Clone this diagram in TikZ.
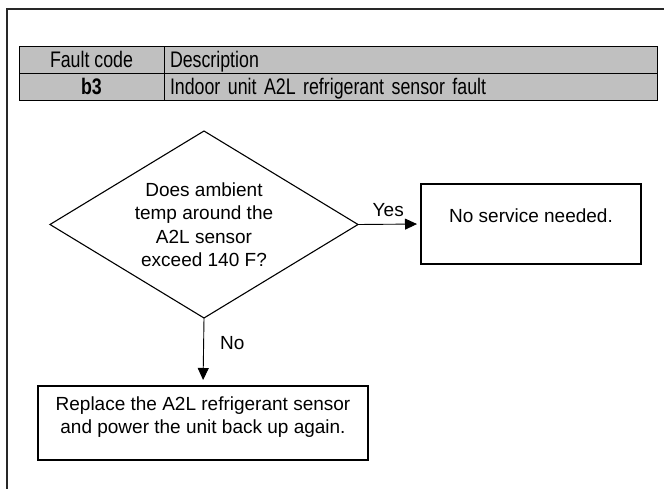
\documentclass[tikz,border=0pt]{standalone}
\usepackage{fontspec}
\setmainfont{Liberation Sans}
\newfontfamily\tablefont[FakeStretch=0.79]{Liberation Sans}
\usetikzlibrary{arrows.meta,positioning,shapes.geometric}
\definecolor{FltGray}{RGB}{192,192,192}
\definecolor{FltFrame}{RGB}{40,40,40}
\tikzset{
  flt/cell/.style={
    draw=black,
    line width=0.9pt,
    fill=FltGray,
    outer sep=0pt,
    minimum height=27pt,
    inner xsep=6pt,
    inner ysep=0pt,
    text height=15.9pt,
    text depth=0pt,
    font=\tablefont\fontsize{22.5}{24}\selectfont
  },
  flt/decision/.style={
    diamond,
    aspect=1.647,
    draw=black,
    line width=1.1pt,
    inner sep=0pt,
    outer sep=0pt,
    minimum width=308pt,
    minimum height=187pt,
    align=center,
    font=\fontsize{19}{23.5}\selectfont
  },
  flt/box/.style={
    draw=black,
    line width=1.1pt,
    outer sep=0pt,
    inner sep=0pt,
    align=center,
    font=\fontsize{19}{23}\selectfont
  },
  flt/arrow/.style={-{Triangle[length=12pt,width=11pt]}, line width=0.9pt},
  flt/label/.style={font=\fontsize{19}{23}\selectfont, inner sep=2pt}
}
\begin{document}
\begin{tikzpicture}[x=1pt,y=-1pt]
  \useasboundingbox (0,0) rectangle (664,489);
  % frame
  \draw[FltFrame, line width=1.3pt] (7,489) -- (7,9) -- (664,9);
  % fault table
  \node[flt/cell, minimum width=145pt] (hcode) at (91.5,59.5) {Fault code};
  \node[flt/cell, anchor=west, text width=481pt, align=left] (hdesc) at (hcode.east) {Description};
  \node[flt/cell, minimum width=145pt, below=0pt of hcode] (code) {\bfseries b3};
  \node[flt/cell, anchor=west, text width=481pt, align=left] (desc) at (code.east) {Indoor unit A2L refrigerant sensor fault};
  % flow chart
  \node[flt/decision] (ask) at (204,224.5) {Does ambient\\temp around the\\A2L sensor\\exceed 140 F?};
  \node[flt/box, minimum width=220pt, minimum height=80pt, text height=14pt, text depth=16pt] (ok) at (531,224) {No service needed.};
  \node[flt/box, minimum width=330pt, minimum height=74pt, text height=37pt, text depth=16pt] (fix) at (203,423) {Replace the A2L refrigerant sensor\\and power the unit back up again.};
  \draw[flt/arrow, shorten >=4pt] (ask.east) -- node[flt/label, above, pos=0.48, yshift=5pt] {Yes} (ok.west);
  \draw[flt/arrow, shorten >=6pt] (ask.south) -- node[flt/label, right, pos=0.37, xshift=14pt] {No} (fix.north);
\end{tikzpicture}
\end{document}
